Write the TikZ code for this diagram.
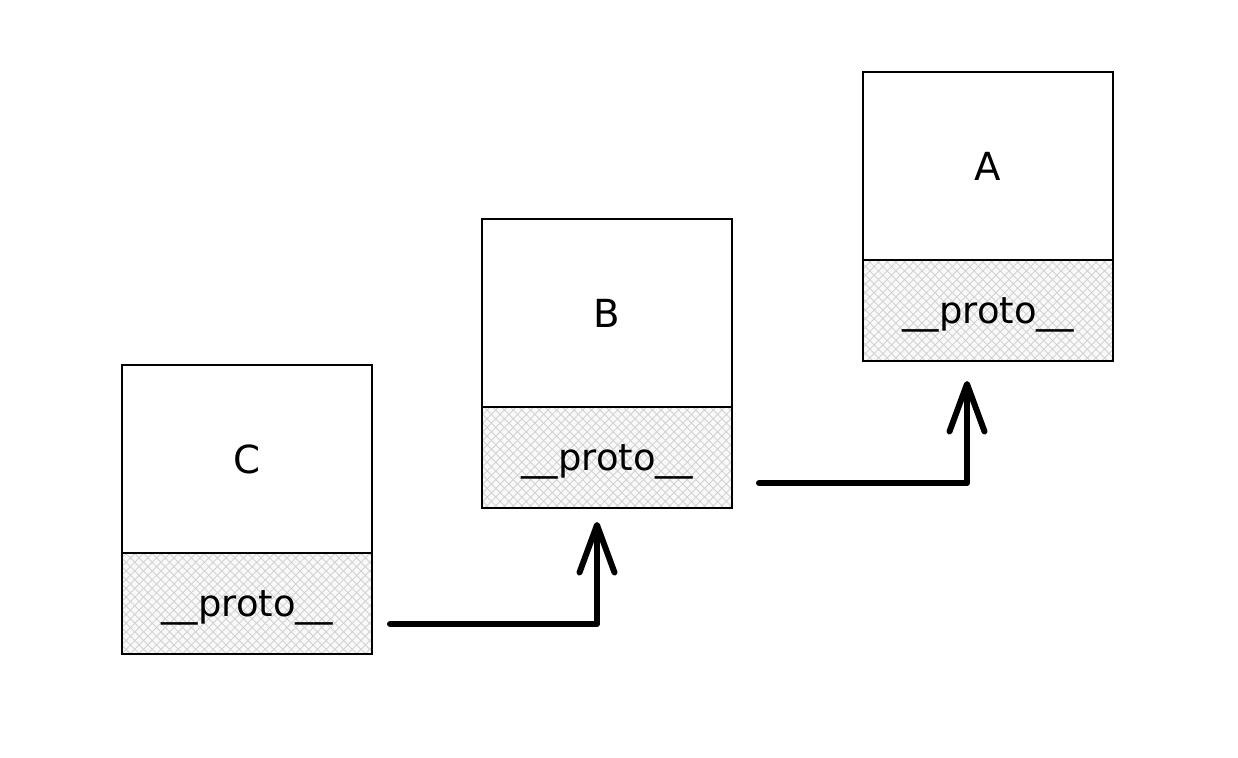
\documentclass[tikz,border=0pt]{standalone}
\usepackage{fontspec}
\setmainfont{DejaVu Sans}
\usetikzlibrary{positioning,arrows.meta,patterns.meta}

\begin{document}
\begin{tikzpicture}[>={Straight Barb[length=0.95cm,width=0.7cm,round]},
  obj/.style={draw,line width=1.2pt,outer sep=0pt,minimum width=5cm,minimum height=3.76cm,
    font=\fontsize{22}{26}\selectfont},
  proto/.style={draw,line width=1.2pt,outer sep=0pt,minimum width=5cm,minimum height=2.02cm,
    preaction={fill=gray!5},
    preaction={pattern={Lines[angle=45,distance=3.5pt,line width=0.5pt]},pattern color=gray!35},
    pattern={Lines[angle=-45,distance=3.5pt,line width=0.5pt]},pattern color=gray!35,
    text depth=-6pt,font=\fontsize{21}{25}\selectfont},
  link/.style={->,line width=3.4pt,line join=round,line cap=round}]
  \useasboundingbox (0,0) rectangle (24.76,-15.16);
  % objects on the prototype chain
  \node[obj] (c) at (4.94,-9.18) {C};
  \node[proto,below=0pt of c] (cp) {\_\_proto\_\_};
  \node[obj] (b) at (12.14,-6.26) {B};
  \node[proto,below=0pt of b] (bp) {\_\_proto\_\_};
  \node[obj] (a) at (19.76,-3.32) {A};
  \node[proto,below=0pt of a] (ap) {\_\_proto\_\_};
  % links
  \draw[link] ([shift={(0.36,0.6)}]cp.south east) -| ([shift={(-0.2,-0.28)}]bp.south);
  \draw[link] ([shift={(0.54,0.5)}]bp.south east) -| ([shift={(-0.42,-0.4)}]ap.south);
\end{tikzpicture}
\end{document}
